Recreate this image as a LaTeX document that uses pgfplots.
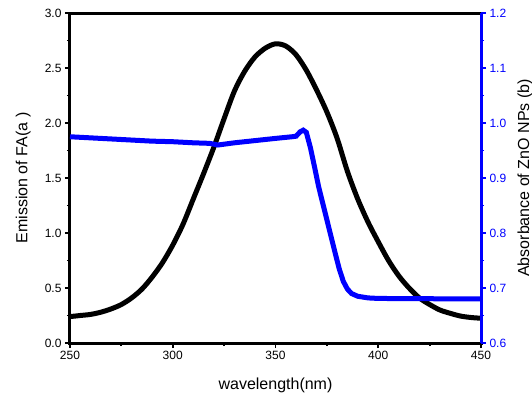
\documentclass[border=0pt]{standalone}
\usepackage{fontspec}
\setmainfont{Liberation Sans}
\usepackage{pgfplots}
\pgfplotsset{compat=1.18}
\definecolor{absblue}{HTML}{0000FF}

\begin{document}
\begin{tikzpicture}
\pgfplotsset{
  every axis/.append style={
    scale only axis, width=411pt, height=330pt,
    at={(0,0)}, anchor=south west,
    xmin=250, xmax=450,
    tick align=outside,
    major tick length=5pt, minor tick length=3pt,
    every tick/.style={line width=1.8pt},
    tick label style={font=\fontsize{12}{12}\selectfont},
    label style={font=\fontsize{16}{16}\selectfont},
    /pgf/number format/assume math mode=true,
  }
}
\begin{axis}[
  axis line style={line width=3pt},
  xtick pos=bottom, ytick pos=left,
  ymin=0, ymax=3,
  xtick={250,300,...,450}, minor x tick num=1,
  ytick={0,0.5,...,3}, minor y tick num=1,
  yticklabel style={/pgf/number format/.cd,fixed,fixed zerofill,precision=1},
  xlabel={wavelength(nm)},
  ylabel={Emission of FA(a )},
  xlabel style={at={(axis description cs:0.5,-0.127)}, anchor=center},
  ylabel style={at={(axis description cs:-0.114,0.5)}, anchor=center},
]
\addplot[black, line width=5pt, smooth] coordinates {
(250,0.24) (255,0.25) (260,0.26) (265,0.28) (270,0.31) (275,0.35)
(280,0.41) (285,0.49) (290,0.60) (295,0.73) (300,0.89) (305,1.08)
(310,1.31) (315,1.54) (320,1.78) (325,2.04) (330,2.29) (335,2.47)
(340,2.60) (345,2.68) (350,2.72) (355,2.70) (360,2.62) (365,2.48)
(370,2.30) (375,2.10) (380,1.86) (385,1.56) (390,1.31) (395,1.10)
(400,0.92) (405,0.75) (410,0.61) (415,0.50) (420,0.41) (425,0.35)
(430,0.30) (435,0.27) (440,0.245) (445,0.232) (450,0.225)
};
\end{axis}
\begin{axis}[
  hide x axis,
  axis y line*=right,
  axis line style={absblue, line width=3pt},
  ymin=0.6, ymax=1.2,
  ytick={0.6,0.7,...,1.2}, minor y tick num=1,
  ytick style={absblue},
  yticklabel style={absblue, /pgf/number format/.cd,fixed,fixed zerofill,precision=1},
  ylabel={Absorbance of ZnO NPs (b)},
  ylabel style={at={(axis description cs:1.107,0.5)}, anchor=center, rotate=0},
]
\addplot[absblue, line width=5pt] coordinates {
(250,0.975) (260,0.973) (270,0.971) (280,0.969) (290,0.967) (300,0.966)
(310,0.964) (318,0.963) (322,0.960) (326,0.962) (330,0.964) (340,0.968)
(350,0.972) (358,0.975) (360,0.976) (362,0.984) (363.5,0.987) (365,0.983)
(367,0.955) (369,0.920) (371,0.884) (373,0.854) (375,0.824) (377,0.794)
(379,0.764) (381,0.735) (383,0.712) (385,0.698) (387,0.690) (390,0.685)
(395,0.682) (400,0.681) (450,0.680)
};
\end{axis}
\pgfresetboundingbox
\path[use as bounding box] (-70pt,-59pt) rectangle (462pt,343pt);
\end{tikzpicture}
\end{document}
